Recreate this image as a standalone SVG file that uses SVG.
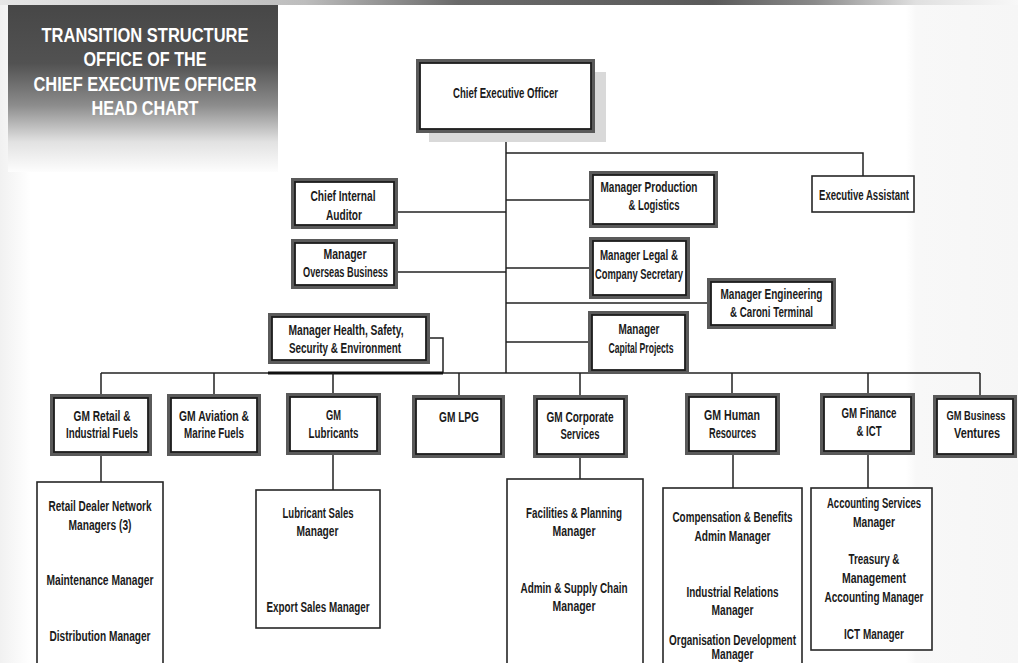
<svg xmlns="http://www.w3.org/2000/svg" width="1018" height="663" viewBox="0 0 1018 663">
<defs>
<linearGradient id="bg" x1="0" y1="0" x2="1" y2="0">
<stop offset="0" stop-color="#f1f1f1"/><stop offset="0.03" stop-color="#ffffff"/><stop offset="0.89" stop-color="#ffffff"/><stop offset="0.9" stop-color="#f8f8f8"/><stop offset="1" stop-color="#f6f6f6"/>
</linearGradient>
<linearGradient id="strip" x1="0" y1="0" x2="1" y2="0">
<stop offset="0" stop-color="#e6e6e6"/><stop offset="0.3" stop-color="#bdbdbd"/><stop offset="0.45" stop-color="#6a6a6a"/><stop offset="0.7" stop-color="#5a5a5a"/><stop offset="0.8" stop-color="#8a8a8a"/><stop offset="0.9" stop-color="#e0e0e0"/><stop offset="1" stop-color="#f8f8f8"/>
</linearGradient>
<linearGradient id="hdr" x1="0" y1="0" x2="0" y2="1">
<stop offset="0" stop-color="#474747"/><stop offset="0.35" stop-color="#525252"/><stop offset="0.6" stop-color="#8c8c8c"/><stop offset="0.82" stop-color="#e2e2e2"/><stop offset="1" stop-color="#fdfdfd"/>
</linearGradient>
<style>
.o{fill:#fff;stroke:#5a5a5a;stroke-width:4}
.i{fill:none;stroke:#1c1c1c;stroke-width:1.8}
.s{fill:#fff;stroke:#262626;stroke-width:1.6}
.c{fill:none;stroke:#222;stroke-width:1.5}
.t{font-family:"Liberation Sans",Arial,sans-serif;font-size:14px;font-weight:bold;fill:#1a1a1a;text-anchor:middle}
.ts{font-family:"Liberation Sans",Arial,sans-serif;font-size:12px;font-weight:bold;fill:#1a1a1a;text-anchor:middle}
.h{font-family:"Liberation Sans",Arial,sans-serif;font-size:20px;font-weight:bold;fill:#fff;text-anchor:middle}
</style>
</defs>
<rect x="0" y="0" width="1018" height="663" fill="url(#bg)"/>
<rect x="0" y="0" width="1018" height="5" fill="url(#strip)"/>
<g id="header">
<rect x="8" y="5" width="270" height="167" fill="url(#hdr)"/>
<text class="h" x="145" y="42" textLength="207" lengthAdjust="spacingAndGlyphs">TRANSITION STRUCTURE</text>
<text class="h" x="145" y="66" textLength="123" lengthAdjust="spacingAndGlyphs">OFFICE OF THE</text>
<text class="h" x="145" y="90.5" textLength="223" lengthAdjust="spacingAndGlyphs">CHIEF EXECUTIVE OFFICER</text>
<text class="h" x="145" y="115" textLength="107" lengthAdjust="spacingAndGlyphs">HEAD CHART</text>
</g>
<g id="connectors">
<path class="c" d="M506,131 V373"/>
<path class="c" d="M506,153 H863 V176"/>
<path class="c" d="M396,212 H506"/>
<path class="c" d="M506,200 H591"/>
<path class="c" d="M396,272 H506"/>
<path class="c" d="M506,268 H591"/>
<path class="c" d="M506,303 H709"/>
<path class="c" d="M506,342 H590"/>
<path class="c" d="M428,338 H443 V373"/>
<path class="c" d="M101,373 H980"/>
<path d="M268,373 H443" fill="none" stroke="#111" stroke-width="3"/>
<path class="c" d="M101,373 V396 M214,373 V396 M333,373 V395 M459,373 V397 M580,373 V397 M732,373 V395 M868,373 V395 M980,373 V397"/>
<path class="c" d="M101,454 V482 M333,453 V490 M580,456 V479 M733,453 V488 M868,453 V488"/>
</g>
<g id="ceo">
<rect x="429" y="72" width="177" height="70" fill="#d9d9d9"/>
<rect class="o" x="418" y="61" width="175" height="70"/>
<rect class="i" x="420" y="63" width="171" height="66"/>
<text class="t" x="505.5" y="98" textLength="105" lengthAdjust="spacingAndGlyphs">Chief Executive Officer</text>
</g>
<g id="executive-assistant">
<rect class="s" x="812" y="176" width="102" height="36"/>
<text class="t" x="864" y="200" textLength="90" lengthAdjust="spacingAndGlyphs">Executive Assistant</text>
</g>
<g id="chief-internal-auditor">
<rect class="o" x="293" y="180" width="103" height="47"/>
<rect class="i" x="295" y="182" width="99" height="43"/>
<text class="t" x="343" y="201" textLength="65" lengthAdjust="spacingAndGlyphs">Chief Internal</text>
<text class="t" x="344" y="220" textLength="36" lengthAdjust="spacingAndGlyphs">Auditor</text>
</g>
<g id="manager-production">
<rect class="o" x="591" y="173" width="125" height="53"/>
<rect class="i" x="593" y="175" width="121" height="49"/>
<text class="t" x="649" y="192" textLength="97" lengthAdjust="spacingAndGlyphs">Manager Production</text>
<text class="t" x="654" y="210" textLength="51" lengthAdjust="spacingAndGlyphs">&amp; Logistics</text>
</g>
<g id="manager-overseas">
<rect class="o" x="293" y="241" width="103" height="46"/>
<rect class="i" x="295" y="243" width="99" height="42"/>
<text class="t" x="345" y="259" textLength="43" lengthAdjust="spacingAndGlyphs">Manager</text>
<text class="t" x="345.5" y="277" textLength="85" lengthAdjust="spacingAndGlyphs">Overseas Business</text>
</g>
<g id="manager-legal">
<rect class="o" x="591" y="239" width="97" height="58"/>
<rect class="i" x="593" y="241" width="93" height="54"/>
<text class="t" x="639" y="260" textLength="78" lengthAdjust="spacingAndGlyphs">Manager  Legal &amp;</text>
<text class="t" x="639" y="279" textLength="88" lengthAdjust="spacingAndGlyphs">Company Secretary</text>
</g>
<g id="manager-engineering">
<rect class="o" x="709" y="280" width="125" height="47"/>
<rect class="i" x="711" y="282" width="121" height="43"/>
<text class="t" x="771.5" y="299" textLength="102" lengthAdjust="spacingAndGlyphs">Manager Engineering</text>
<text class="t" x="771.5" y="317" textLength="83" lengthAdjust="spacingAndGlyphs">&amp; Caroni Terminal</text>
</g>
<g id="manager-capital">
<rect class="o" x="590" y="313" width="97" height="59"/>
<rect class="i" x="592" y="315" width="93" height="55"/>
<text class="t" x="639" y="334" textLength="41" lengthAdjust="spacingAndGlyphs">Manager</text>
<text class="t" x="641" y="353" textLength="65" lengthAdjust="spacingAndGlyphs">Capital Projects</text>
</g>
<g id="manager-hse">
<rect class="o" x="270" y="315" width="158" height="47"/>
<rect class="i" x="272" y="317" width="154" height="43"/>
<text class="t" x="346" y="335" textLength="115" lengthAdjust="spacingAndGlyphs">Manager Health, Safety,</text>
<text class="t" x="345" y="353" textLength="112" lengthAdjust="spacingAndGlyphs">Security &amp; Environment</text>
</g>
<g id="gm-retail">
<rect class="o" x="52" y="396" width="98" height="58"/>
<rect class="i" x="54" y="398" width="94" height="54"/>
<text class="t" x="102" y="421" textLength="57" lengthAdjust="spacingAndGlyphs">GM Retail &amp;</text>
<text class="t" x="102" y="438" textLength="72" lengthAdjust="spacingAndGlyphs">Industrial Fuels</text>
</g>
<g id="gm-aviation">
<rect class="o" x="169" y="396" width="90" height="58"/>
<rect class="i" x="171" y="398" width="86" height="54"/>
<text class="t" x="214" y="421" textLength="70" lengthAdjust="spacingAndGlyphs">GM  Aviation &amp;</text>
<text class="t" x="214" y="438" textLength="60" lengthAdjust="spacingAndGlyphs">Marine Fuels</text>
</g>
<g id="gm-lubricants">
<rect class="o" x="288" y="395" width="91" height="58"/>
<rect class="i" x="290" y="397" width="87" height="54"/>
<text class="t" x="333.5" y="420" textLength="15" lengthAdjust="spacingAndGlyphs">GM</text>
<text class="t" x="333.5" y="438" textLength="50" lengthAdjust="spacingAndGlyphs">Lubricants</text>
</g>
<g id="gm-lpg">
<rect class="o" x="414" y="397" width="89" height="59"/>
<rect class="i" x="416" y="399" width="85" height="55"/>
<text class="t" x="459" y="422" textLength="40" lengthAdjust="spacingAndGlyphs">GM  LPG</text>
</g>
<g id="gm-corporate">
<rect class="o" x="535" y="397" width="91" height="59"/>
<rect class="i" x="537" y="399" width="87" height="55"/>
<text class="t" x="580" y="422" textLength="67" lengthAdjust="spacingAndGlyphs">GM  Corporate</text>
<text class="t" x="580" y="439" textLength="39" lengthAdjust="spacingAndGlyphs">Services</text>
</g>
<g id="gm-hr">
<rect class="o" x="687" y="395" width="91" height="58"/>
<rect class="i" x="689" y="397" width="87" height="54"/>
<text class="t" x="732" y="420" textLength="56" lengthAdjust="spacingAndGlyphs">GM  Human</text>
<text class="t" x="732.5" y="438" textLength="47" lengthAdjust="spacingAndGlyphs">Resources</text>
</g>
<g id="gm-finance">
<rect class="o" x="822" y="395" width="91" height="58"/>
<rect class="i" x="824" y="397" width="87" height="54"/>
<text class="t" x="869" y="418" textLength="55" lengthAdjust="spacingAndGlyphs">GM Finance</text>
<text class="t" x="869" y="436" textLength="25" lengthAdjust="spacingAndGlyphs">&amp; ICT</text>
</g>
<g id="gm-business">
<rect class="o" x="935" y="397" width="80" height="59"/>
<rect class="i" x="937" y="399" width="76" height="55"/>
<text class="ts" x="976" y="420" textLength="59" lengthAdjust="spacingAndGlyphs">GM Business</text>
<text class="t" x="977" y="438" textLength="46" lengthAdjust="spacingAndGlyphs">Ventures</text>
</g>
<g id="retail-managers">
<rect class="s" x="37" y="482" width="126" height="200"/>
<text class="t" x="100" y="511" textLength="103" lengthAdjust="spacingAndGlyphs">Retail Dealer Network</text>
<text class="t" x="100" y="530" textLength="63" lengthAdjust="spacingAndGlyphs">Managers (3)</text>
<text class="t" x="100" y="585" textLength="107" lengthAdjust="spacingAndGlyphs">Maintenance Manager</text>
<text class="t" x="100" y="641" textLength="101" lengthAdjust="spacingAndGlyphs">Distribution Manager</text>
</g>
<g id="lubricant-managers">
<rect class="s" x="256" y="490" width="124" height="138"/>
<text class="t" x="318" y="518" textLength="71" lengthAdjust="spacingAndGlyphs">Lubricant Sales</text>
<text class="t" x="317.5" y="536" textLength="42" lengthAdjust="spacingAndGlyphs">Manager</text>
<text class="t" x="318" y="612" textLength="103" lengthAdjust="spacingAndGlyphs">Export Sales Manager</text>
</g>
<g id="corporate-managers">
<rect class="s" x="507" y="479" width="136" height="200"/>
<text class="t" x="574" y="518" textLength="96" lengthAdjust="spacingAndGlyphs">Facilities &amp; Planning</text>
<text class="t" x="574" y="536" textLength="43" lengthAdjust="spacingAndGlyphs">Manager</text>
<text class="t" x="574" y="593" textLength="107" lengthAdjust="spacingAndGlyphs">Admin &amp; Supply Chain</text>
<text class="t" x="574" y="611" textLength="43" lengthAdjust="spacingAndGlyphs">Manager</text>
</g>
<g id="hr-managers">
<rect class="s" x="663" y="488" width="139" height="200"/>
<text class="t" x="732.5" y="522" textLength="120" lengthAdjust="spacingAndGlyphs">Compensation &amp; Benefits</text>
<text class="t" x="732.5" y="541" textLength="76" lengthAdjust="spacingAndGlyphs">Admin Manager</text>
<text class="t" x="732.5" y="597" textLength="92" lengthAdjust="spacingAndGlyphs">Industrial Relations</text>
<text class="t" x="732.5" y="615" textLength="42" lengthAdjust="spacingAndGlyphs">Manager</text>
<text class="t" x="732.5" y="645" textLength="127" lengthAdjust="spacingAndGlyphs">Organisation Development</text>
<text class="t" x="732.5" y="659" textLength="42" lengthAdjust="spacingAndGlyphs">Manager</text>
</g>
<g id="finance-managers">
<rect class="s" x="811" y="488" width="121" height="162"/>
<text class="t" x="874" y="508" textLength="94" lengthAdjust="spacingAndGlyphs">Accounting Services</text>
<text class="t" x="874" y="527" textLength="42" lengthAdjust="spacingAndGlyphs">Manager</text>
<text class="t" x="874" y="564" textLength="51" lengthAdjust="spacingAndGlyphs">Treasury &amp;</text>
<text class="t" x="874" y="583" textLength="64" lengthAdjust="spacingAndGlyphs">Management</text>
<text class="t" x="874" y="602" textLength="99" lengthAdjust="spacingAndGlyphs">Accounting Manager</text>
<text class="t" x="874" y="639" textLength="60" lengthAdjust="spacingAndGlyphs">ICT Manager</text>
</g>
</svg>
